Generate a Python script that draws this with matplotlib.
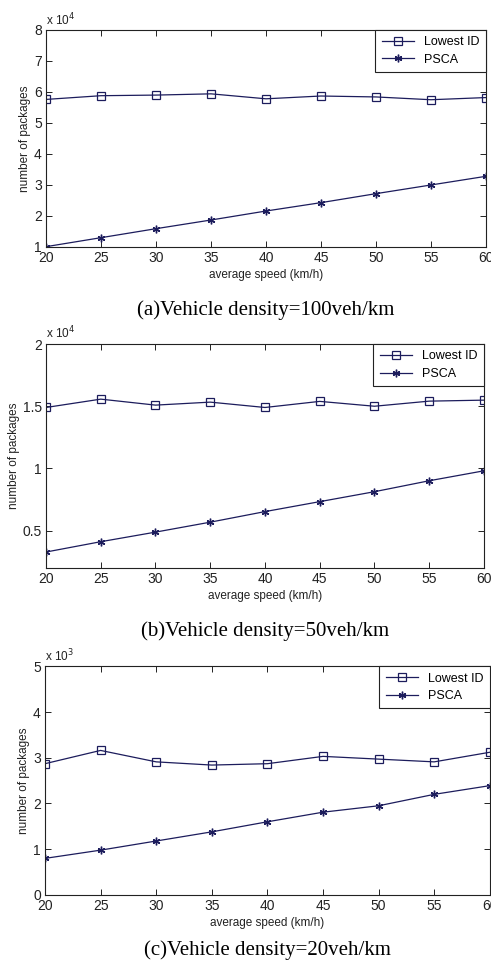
import numpy as np
from matplotlib import pyplot as plt

speed = [20, 25, 30, 35, 40, 45, 50, 55, 60]

# values in units of the axis multiplier (x10^4, x10^4, x10^3)
lowest_a = [5.76, 5.88, 5.90, 5.94, 5.78, 5.87, 5.84, 5.75, 5.82]
psca_a = [1.01, 1.30, 1.59, 1.87, 2.16, 2.43, 2.72, 3.00, 3.28]

lowest_b = [1.49, 1.557, 1.509, 1.533, 1.49, 1.539, 1.50, 1.541, 1.549]
psca_b = [0.328, 0.411, 0.488, 0.568, 0.653, 0.733, 0.813, 0.901, 0.981]

lowest_c = [2.87, 3.16, 2.91, 2.84, 2.87, 3.03, 2.97, 2.91, 3.12]
psca_c = [0.80, 0.98, 1.18, 1.38, 1.60, 1.81, 1.95, 2.20, 2.39]

captions = ['(a)Vehicle density=100veh/km', '(b)Vehicle density=50veh/km',
            '(c)Vehicle density=20veh/km']
exponents = ['4', '4', '3']
ylims = [(1, 8), (0.2, 2), (0, 5)]
yticks = [[1, 2, 3, 4, 5, 6, 7, 8], [0.5, 1, 1.5, 2], [0, 1, 2, 3, 4, 5]]
yticklabels = [['1', '2', '3', '4', '5', '6', '7', '8'], ['0.5', '1', '1.5', '2'],
               ['0', '1', '2', '3', '4', '5']]

plt.rcParams['font.family'] = ['Liberation Sans', 'DejaVu Sans']
navy = '#1c1c5c'
asterisk = (6, 2, 0)

fig = plt.figure(figsize=(4.91, 9.61), dpi=100)
boxes = [(0.0937, 0.743, 0.896, 0.2258),
         (0.0937, 0.409, 0.892, 0.233),
         (0.0916, 0.0687, 0.906, 0.238)]
cap_off = [-0.245, -0.24, -0.197]
data = [(lowest_a, psca_a), (lowest_b, psca_b), (lowest_c, psca_c)]

for i in range(3):
    ax = fig.add_axes(boxes[i])
    low, ps = data[i]
    ax.plot(speed, low, color=navy, lw=0.9, marker='s', markersize=5.5,
            markerfacecolor='none', markeredgecolor=navy, markeredgewidth=0.9,
            label='Lowest ID')
    ax.plot(speed, ps, color=navy, lw=0.9, marker=asterisk, markersize=5.5,
            markeredgewidth=1.0, label='PSCA')
    ax.set_xlim(20, 60)
    ax.set_ylim(*ylims[i])
    ax.set_xticks(speed)
    ax.set_yticks(yticks[i])
    ax.set_yticklabels(yticklabels[i])
    ax.tick_params(direction='in', top=True, right=True, length=4, width=0.7,
                   labelsize=10, colors='#222222', pad=3)
    for s in ax.spines.values():
        s.set_linewidth(0.8)
        s.set_color('#222222')
    ax.set_xlabel('average speed (km/h)', fontsize=8.5, labelpad=3, color='#222222')
    ax.set_ylabel('number of packages', fontsize=8.5, labelpad=2, color='#222222')
    ax.text(0.0, 1.01, 'x 10$^{' + exponents[i] + '}$', transform=ax.transAxes,
            fontsize=8.5, ha='left', va='bottom', color='#222222')
    leg = ax.legend(loc='upper right', fontsize=9, fancybox=False, framealpha=1,
                    edgecolor='#222222', borderaxespad=0, handlelength=2.6,
                    borderpad=0.5, labelspacing=0.45)
    leg.get_frame().set_linewidth(0.8)
    ax.text(0.5, cap_off[i], captions[i], transform=ax.transAxes,
            ha='center', va='top', fontsize=15, family='Liberation Serif')

fig.savefig('out.png', dpi=100)
